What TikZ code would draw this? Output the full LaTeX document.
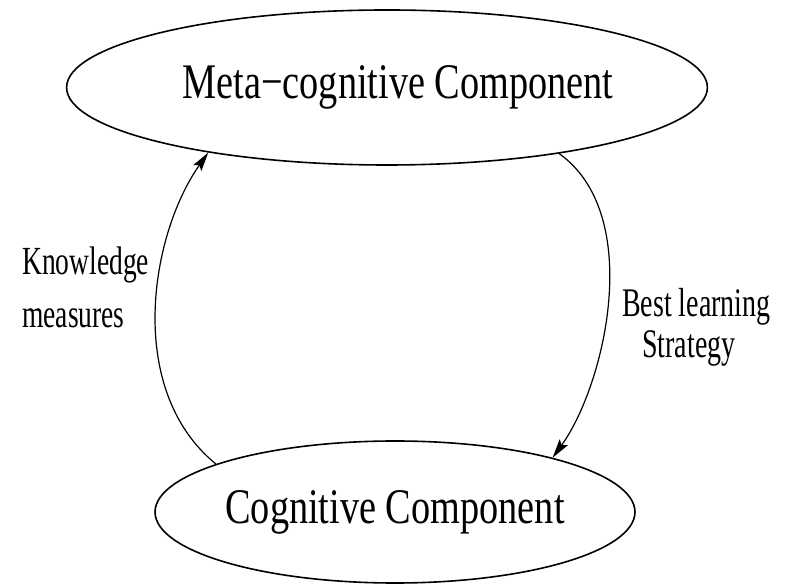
\documentclass[tikz,border=0pt]{standalone}
\usepackage{fontspec}
\setmainfont{Liberation Serif}
\usepackage{graphicx}
\usetikzlibrary{shapes.geometric,arrows.meta}

% text set in a tall, narrow cut
\newcommand{\tallcut}[2][1.3]{\scalebox{1}[#1]{#2}}

\tikzset{
  component/.style={ellipse, draw=black, line width=1.6pt, inner sep=0pt,
    font=\fontsize{38.3}{44}\selectfont},
  flow/.style={draw=black, line width=1.2pt,
    -{Stealth[length=19pt,width=10pt,inset=3.5pt]}},
  edgelabel/.style={inner sep=0pt, anchor=base west}
}

\begin{document}
\begin{tikzpicture}[x=1pt,y=1pt]
  \useasboundingbox (0,0) rectangle (792,586);

  % the two components
  \node[component, minimum width=526pt, minimum height=155pt] (meta) at (387,498.5)
    {\raisebox{-10.9pt}{\hspace*{22pt}\tallcut{Meta−cognitive Component}}};
  \node[component, minimum width=450pt, minimum height=142pt] (cog) at (395,74)
    {\raisebox{6.6pt}{\tallcut{Cognitive Component}}};

  % feedback loop between them
  \draw[flow] (cog.165.9) .. controls (125,196) and (150,351) .. (meta.200.9);
  \draw[flow] (meta.339.8) .. controls (645,371) and (605,201) .. (cog.19);

  % labels of the two flows
  \node[edgelabel] (knowledge) at (22,311)
    {\tallcut[1.45]{\fontsize{27.5}{36.5}\selectfont
      \begin{tabular}[t]{@{}l@{}}Knowledge\\measures\end{tabular}}};
  \node[edgelabel] (strategy) at (622,269)
    {\tallcut[1.45]{\fontsize{28}{27.6}\selectfont
      \begin{tabular}[t]{@{}l@{}}Best learning\\\hspace*{20pt}Strategy\end{tabular}}};
\end{tikzpicture}
\end{document}
